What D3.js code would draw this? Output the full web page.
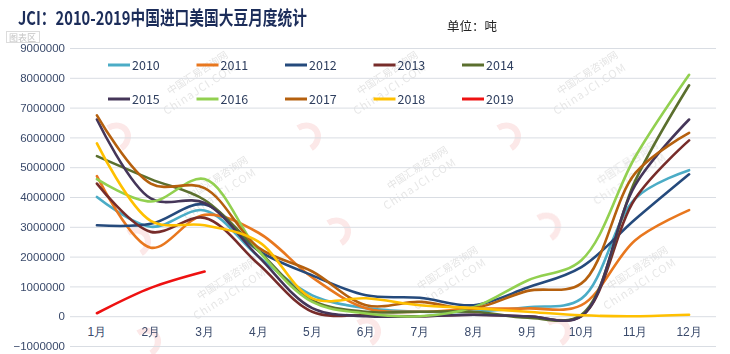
<!DOCTYPE html>
<html>
<head>
<meta charset="utf-8">
<script src="https://cdn.jsdelivr.net/npm/d3@7"></script>
<style>
  body { margin: 0; background: #fff; }
  svg { display: block; font-family: "Noto Sans CJK SC", "Liberation Sans", sans-serif; }
</style>
</head>
<body>
<div id="chart-div"></div>
<script>
// months and y ticks
const months = ["1月", "2月", "3月", "4月", "5月", "6月", "7月", "8月", "9月", "10月", "11月", "12月"];
const yTicks = [-1000000, 0, 1000000, 2000000, 3000000, 4000000, 5000000, 6000000, 7000000, 8000000, 9000000];
const years = ["2010", "2011", "2012", "2013", "2014", "2015", "2016", "2017", "2018", "2019"];

// monthly imports, tonnes
const y2010 = [4000000, 3000000, 3550000, 2000000, 700000, 270000, 150000, 150000, 300000, 590000, 3950000, 4900000];
const y2011 = [4700000, 2300000, 3400000, 2800000, 1300000, 270000, 150000, 250000, 260000, 370000, 2550000, 3560000];
const y2012 = [3050000, 3100000, 3750000, 2200000, 1370000, 700000, 620000, 370000, 960000, 1650000, 3250000, 4760000];
const y2013 = [4450000, 2830000, 3300000, 1750000, 150000, 30000, 0, 50000, 0, 0, 3950000, 5900000];
const y2014 = [5370000, 4600000, 3900000, 2200000, 530000, 150000, 150000, 150000, -50000, 50000, 4550000, 7750000];
const y2015 = [6600000, 3950000, 3800000, 2000000, 270000, 0, 0, 50000, 0, 0, 4400000, 6600000];
const y2016 = [4600000, 3850000, 4600000, 2200000, 480000, 90000, 0, 300000, 1200000, 1880000, 5350000, 8100000];
const y2017 = [6740000, 4450000, 4300000, 2300000, 1500000, 370000, 480000, 270000, 850000, 1100000, 4800000, 6150000];
const y2018 = [5800000, 3200000, 3050000, 2500000, 600000, 600000, 370000, 270000, 150000, 30000, 0, 50000];
const y2019 = [100000, 950000, 1500000];

const seriesValues = [y2010, y2011, y2012, y2013, y2014, y2015, y2016, y2017, y2018, y2019];
const colors = ["#4bacc6", "#e8771e", "#254a7c", "#772c2a", "#5b6f2e", "#453659", "#92d050", "#b5600e", "#ffc000", "#ee1111"];

const width = 730;
const height = 354;

const svg = d3.select("#chart-div")
    .append("svg")
    .attr("width", width)
    .attr("height", height);

const xScale = d3.scaleBand()
    .domain(months)
    .range([70, 716]);

const yScale = d3.scaleLinear()
    .domain([-1000000, 9000000])
    .range([346, 48]);

const xMid = m => xScale(m) + xScale.bandwidth() / 2;

// watermark, very faint
const marks = [[170, 95], [360, 95], [560, 95], [190, 200], [390, 190], [600, 185], [200, 300], [420, 290], [610, 290]];
const wm = svg.append("g").attr("opacity", 0.5);
marks.forEach(function(p) {
    const g = wm.append("g").attr("transform", "translate(" + p[0] + "," + p[1] + ") rotate(-33)");
    g.append("path")
        .attr("d", "M-70,-6 A14,12 0 1,1 -70,18")
        .attr("fill", "none")
        .attr("stroke", "#f8d0d0")
        .attr("stroke-width", 6);
    g.append("text").text("中国汇易咨询网")
        .attr("x", 0).attr("y", 0)
        .attr("font-size", 10).attr("fill", "#c9c9c9");
    g.append("text").text("ChinaJCI.COM")
        .attr("x", -14).attr("y", 15)
        .attr("font-size", 11).attr("letter-spacing", 1).attr("fill", "#cfcfcf");
});

// y axis with gridlines
const yAxis = svg.append("g")
    .attr("transform", "translate(70,0)")
    .call(d3.axisLeft(yScale)
        .tickValues(yTicks)
        .tickSize(-646)
        .tickPadding(5)
        .tickFormat(d3.format("d")));
yAxis.select(".domain").remove();
yAxis.selectAll("line").attr("stroke", "#d9dde3");
yAxis.selectAll("text")
    .attr("font-size", 11.5)
    .attr("fill", "#3a4a6b");

// x axis labels
const xAxis = svg.append("g")
    .attr("transform", "translate(0,327)")
    .call(d3.axisBottom(xScale).tickSize(0).tickPadding(0));
xAxis.select(".domain").remove();
xAxis.selectAll("text")
    .attr("font-size", 12)
    .attr("fill", "#3a4a6b");

// lines
const line = d3.line()
    .x((d, i) => xMid(months[i]))
    .y(d => yScale(d))
    .curve(d3.curveCatmullRom.alpha(0.5));

svg.append("g").selectAll("path").data(seriesValues).enter().append("path")
    .attr("d", d => line(d))
    .attr("fill", "none")
    .attr("stroke", (d, i) => colors[i])
    .attr("stroke-width", 2.6)
    .attr("stroke-linecap", "round");

// legend, two rows of five
const legend = svg.append("g").selectAll("g").data(years).enter().append("g")
    .attr("transform", (d, i) => "translate(" + (108 + (i % 5) * 88.5) + "," + (i < 5 ? 65 : 99) + ")");
legend.append("line")
    .attr("x1", 0).attr("x2", 22)
    .attr("stroke", (d, i) => colors[i])
    .attr("stroke-width", 3);
legend.append("text")
    .text(d => d)
    .attr("x", 24).attr("y", 4.5)
    .attr("font-size", 12.5)
    .attr("fill", "#2f3f5f");

// title and unit
svg.append("text")
    .text("JCI：2010-2019中国进口美国大豆月度统计")
    .attr("x", 18).attr("y", 25)
    .attr("font-size", 19)
    .attr("font-weight", "bold")
    .attr("textLength", 289)
    .attr("lengthAdjust", "spacingAndGlyphs")
    .attr("fill", "#1c2d5a");

svg.append("text")
    .text("单位：吨")
    .attr("x", 447).attr("y", 31)
    .attr("font-size", 12.5)
    .attr("fill", "#222");

// leftover chart-area tag
svg.append("rect")
    .attr("x", 6.5).attr("y", 31.5)
    .attr("width", 33).attr("height", 11)
    .attr("fill", "#fff")
    .attr("stroke", "#dcdcdc");
svg.append("text")
    .text("图表区")
    .attr("x", 9).attr("y", 40.5)
    .attr("font-size", 9)
    .attr("fill", "#c4c4c4");
</script>
</body>
</html>
